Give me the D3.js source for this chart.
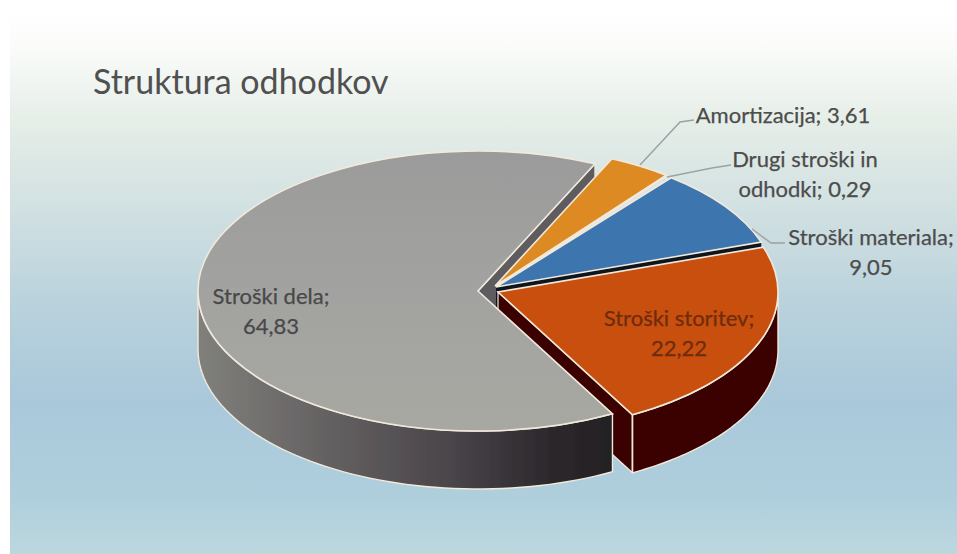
<!DOCTYPE html>
<html>
<head>
<meta charset="utf-8">
<script src="https://cdn.jsdelivr.net/npm/d3@7"></script>
<style>
html,body{margin:0;padding:0;background:#fff;overflow:hidden}
svg{display:block}
text{font-family:Lato,"Open Sans",sans-serif}
</style>
</head>
<body>
<svg id="c" width="957" height="554"></svg>
<script>
const title = "Struktura odhodkov";
const categories = ["Stroški dela", "Amortizacija", "Drugi stroški in odhodki", "Stroški materiala", "Stroški storitev"];
const values = [64.83, 3.61, 0.29, 9.05, 22.22];
const faceColors = ["#a1a19e", "#de8a24", "#d5e2e8", "#3e74ae", "#c8500f"];
const sliceShift = [[-20,-1],[-3,-6],[-2,-5.5],[-2,-5],[0,0]];
const labelLines = [
  ["Stroški dela;", "64,83"],
  ["Amortizacija; 3,61"],
  ["Drugi stroški in", "odhodki; 0,29"],
  ["Stroški materiala;", "9,05"],
  ["Stroški storitev;", "22,22"]
];
const labelPos = [[271,304],[783,123],[805,167],[871,245],[679,326]];
const labelColors = ["#484848","#4c4c4c","#4c4c4c","#4c4c4c","#6e2c0c"];
const leaders = [
  null,
  [[640,165],[680,122],[694,120]],
  [[667,177],[712,168],[731,165]],
  [[752,229],[771,243],[785,243]],
  null
];

const W = 957, H = 554;
const cx = 498, cy = 292, rx = 280, ry = 140, depth = 58;
const rad = d => d * Math.PI / 180;
const start = rad(151.3);
const svg = d3.select("#c");
const defs = svg.append("defs");

const bg = defs.append("linearGradient").attr("id","bg").attr("x1",0).attr("y1",0).attr("x2",0).attr("y2",1);
[[0,"#ffffff"],[0.06,"#fbfcfa"],[0.2,"#e6eee8"],[0.38,"#cfdfe1"],[0.55,"#b8d1dc"],[0.72,"#a9c8da"],[0.9,"#b0cfdd"],[1,"#bcd7de"]]
  .forEach(s => bg.append("stop").attr("offset",s[0]).attr("stop-color",s[1]));

const gw = defs.append("linearGradient").attr("id","grayWall").attr("gradientUnits","userSpaceOnUse")
  .attr("x1",197).attr("x2",612).attr("y1",0).attr("y2",0);
[[0,"#80807c"],[0.25,"#6a6767"],[0.6,"#4b464b"],[0.85,"#2c282c"],[1,"#232023"]]
  .forEach(s => gw.append("stop").attr("offset",s[0]).attr("stop-color",s[1]));

const gf = defs.append("linearGradient").attr("id","grayFace").attr("x1",0).attr("y1",0).attr("x2",0).attr("y2",1);
[[0,"#9b9b9b"],[0.5,"#a2a2a0"],[1,"#a8a8a2"]]
  .forEach(s => gf.append("stop").attr("offset",s[0]).attr("stop-color",s[1]));

const soft = defs.append("filter").attr("id","soft");
soft.append("feGaussianBlur").attr("stdDeviation",0.45);

svg.append("rect").attr("width",W).attr("height",H).attr("fill","#fff");
svg.append("rect").attr("x",10).attr("y",12).attr("width",W-10).attr("height",H-12).attr("fill","url(#bg)");

svg.append("text").attr("x",93).attr("y",94).attr("font-size",34).attr("fill","#505050").text(title);

const pie = d3.pie().sort(null).startAngle(start).endAngle(start + 2*Math.PI);
const arcs = pie(values);
const arcGen = d3.arc().innerRadius(0).outerRadius(rx);

const center = i => [cx + sliceShift[i][0], cy + sliceShift[i][1]];
const px = (c,a) => [c[0] + rx*Math.sin(a), c[1] - ry*Math.cos(a)];
const line = d3.line();
const edge = "#f1e9dc";

const wallColor = ["url(#grayWall)","#7a5a14","#99a","#10141c","#3a0403"];
const g = svg.append("g").attr("filter","url(#soft)");

function radialWall(i, a){
  const c = center(i), t = px(c,a);
  g.append("path")
    .attr("d", line([c,t,[t[0],t[1]+depth],[c[0],c[1]+depth]])+"Z")
    .attr("fill", i===0 ? "#5f5c60" : wallColor[i]).attr("stroke",i===3?"none":edge).attr("stroke-width",1.2);
}
function outerWall(i){
  const c = center(i);
  // bring the slice's angles into the first turn before clamping to the near half
  const turn = arcs[i].startAngle >= 2*Math.PI ? 2*Math.PI : 0;
  const a0 = Math.max(arcs[i].startAngle - turn, rad(90));
  const a1 = Math.min(arcs[i].endAngle - turn, rad(270));
  const A = d3.range(0,61).map(k => a0 + (a1-a0)*k/60);
  const top = A.map(a => px(c,a));
  const bot = A.map(a => { const p = px(c,a); return [p[0],p[1]+depth]; }).reverse();
  g.append("path")
    .attr("d", line(top.concat(bot))+"Z")
    .attr("fill", wallColor[i]).attr("stroke",edge).attr("stroke-width",1.4);
}
function face(i){
  const c = center(i);
  g.append("g").attr("transform",`translate(${c[0]},${c[1]}) scale(1,${ry/rx})`)
    .append("path").attr("d", arcGen(arcs[i]))
    .attr("fill", i===0 ? "url(#grayFace)" : faceColors[i])
    .attr("stroke",edge).attr("stroke-width",1.6).attr("vector-effect","non-scaling-stroke");
}

// back to front: slices at the far side first
radialWall(0, arcs[0].endAngle);
radialWall(3, arcs[3].endAngle);
radialWall(4, arcs[4].endAngle);
outerWall(4);
// vertical seam at the near corner of the orange slice
{
  const c = center(4), t = px(c, arcs[4].endAngle);
  g.append("path").attr("d", line([t,[t[0],t[1]+depth]])).attr("stroke",edge).attr("stroke-width",1.4).attr("fill","none");
}
outerWall(0);
face(0);
face(1);
face(2);
face(3);
face(4);

// leader lines
const lg = svg.append("g").attr("filter","url(#soft)");
leaders.forEach(l => {
  if(l) lg.append("path").attr("d", line(l)).attr("fill","none").attr("stroke","#9ba3a3").attr("stroke-width",1.5);
});

// labels
categories.forEach((name,i) => {
  const t = svg.append("text")
    .attr("x",labelPos[i][0]).attr("y",labelPos[i][1])
    .attr("text-anchor","middle").attr("font-size",22).attr("fill",labelColors[i])
    .attr("stroke",labelColors[i]).attr("stroke-width",0.25)
    .attr("data-category",name);
  labelLines[i].forEach((s,k) => t.append("tspan").attr("x",labelPos[i][0]).attr("dy",k?30:0).text(s));
});
</script>
</body>
</html>
